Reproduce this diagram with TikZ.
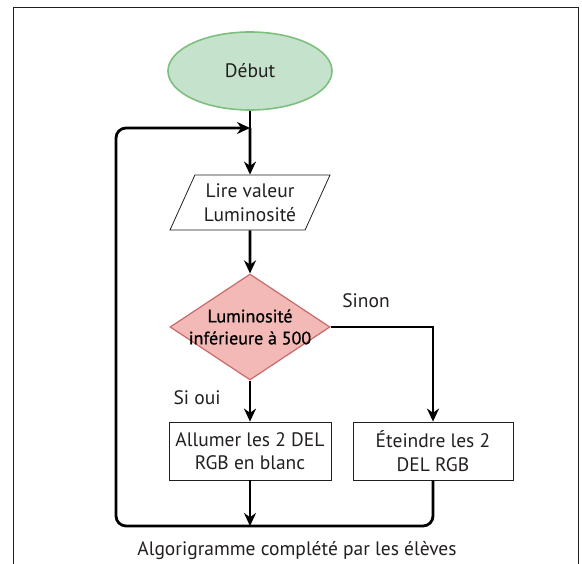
\documentclass[tikz,border=0pt]{standalone}
\usepackage{fontspec}
\setmainfont{PT Sans}
\newfontfamily\semibold{PT Sans}[FakeBold=0.8]
\usetikzlibrary{shapes.geometric, arrows.meta, positioning}
\definecolor{debutfill}{HTML}{C5E3CC}
\definecolor{debutline}{HTML}{7DBF7F}
\definecolor{testfill}{HTML}{F2B9B6}
\definecolor{testline}{HTML}{C9696A}
\definecolor{inkgray}{HTML}{231F20}
\tikzstyle{startstop} = [ellipse, minimum width=164pt, minimum height=78pt, inner sep=0pt, draw=debutline, fill=debutfill, line width=1.6pt]
\tikzstyle{io} = [trapezium, trapezium left angle=61, trapezium right angle=119, trapezium stretches=true, minimum width=160pt, minimum height=55pt, inner sep=0pt, align=center, draw=inkgray, line width=0.8pt]
\tikzstyle{decision} = [diamond, minimum width=160pt, minimum height=106pt, inner sep=0pt, draw=testline, fill=testfill, line width=1.2pt]
\tikzstyle{process} = [rectangle, minimum height=58pt, inner sep=0pt, align=center, draw=inkgray, line width=0.8pt]
\tikzstyle{arrow} = [line width=2.8pt, -{Stealth[length=13pt,width=12pt]}, draw=black]
\tikzstyle{line} = [line width=2.8pt, draw=black]

\begin{document}
\begin{tikzpicture}[x=1pt, y=-1pt, font=\fontsize{19.5}{23.5}\selectfont, text=inkgray]
    \useasboundingbox (0,0) rectangle (582,564);
    \draw [line width=1pt, draw=inkgray] (13,564) -- (13,8) -- (578,8) -- (578,564); %% page frame

    \node[startstop] (debut) at (250,71) {Début};
    \node[io] (lire) at (250,202.5) {Lire valeur\\Luminosité};
    \node[decision] (test) at (250,327) {};
    \node[align=center, text=black, font=\semibold\fontsize{18}{22}\selectfont] (testtext) at (test.center) {Luminosité\\inférieure à 500};
    \node[process, minimum width=162pt] (allumer) at (250,451) {Allumer les 2 DEL\\RGB en blanc};
    \node[process, minimum width=160pt] (eteindre) at (433,451) {Éteindre les 2\\DEL RGB};

    \coordinate (loopin) at (250,128);
    \coordinate (joinpt) at (250,526);
    \coordinate (loopleft) at (116,526);

    \draw [line] (debut) -- (loopin);
    \draw [arrow] (loopin) -- (lire);
    \draw [arrow] (lire) -- (test);
    \draw [arrow] (test) -- (allumer);
    \node (sioui) at (197,398) {Si oui};
    \draw [arrow] (test.east) -| (eteindre.north);
    \node (sinon) at (366,301) {Sinon};
    \draw [arrow] (allumer) -- (joinpt);
    \draw [arrow, rounded corners=10pt] (eteindre.south) |- (loopleft) |- (loopin); %% back to the start

    \node (caption) at (297,551) {Algorigramme complété par les élèves};
\end{tikzpicture}
\end{document}
